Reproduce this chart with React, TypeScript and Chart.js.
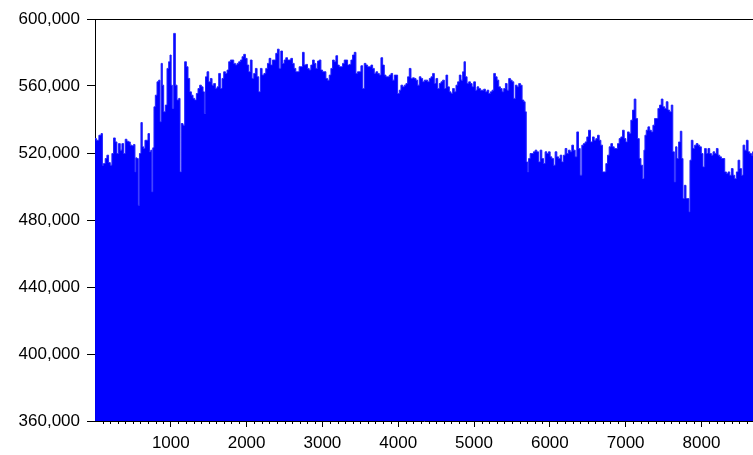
import React, { useEffect, useRef } from "react";
import { Chart, registerables } from "chart.js";

Chart.register(...registerables);

// observation index (hour of year) of each reading
const obs: number[] = [
  1, 36, 67, 93, 102, 124, 146, 168, 190, 212, 234, 256, 278, 300, 322, 344, 366, 388, 410, 432,
  454, 476, 498, 520, 534, 542, 564, 578, 595, 617, 630, 652, 666, 688, 710, 727, 745, 754, 771, 785,
  807, 829, 851, 864, 881, 895, 917, 939, 961, 983, 996, 1013, 1027, 1049, 1071, 1093, 1115, 1128, 1150, 1172,
  1194, 1216, 1238, 1260, 1282, 1304, 1326, 1348, 1370, 1392, 1414, 1436, 1449, 1467, 1489, 1511, 1533, 1555, 1577, 1599,
  1621, 1643, 1665, 1687, 1709, 1731, 1753, 1775, 1797, 1819, 1841, 1863, 1885, 1907, 1929, 1951, 1973, 1995, 2017, 2039,
  2061, 2083, 2105, 2127, 2149, 2171, 2193, 2215,
  2242, 2264, 2286, 2308, 2330, 2352, 2374, 2396, 2418, 2440, 2462, 2484, 2506, 2528, 2550, 2572, 2594, 2616, 2638, 2660,
  2682, 2704, 2726, 2748, 2770, 2792, 2814, 2836, 2859, 2881, 2903, 2925, 2947, 2969, 2991, 3013, 3035, 3057, 3079, 3101,
  3123, 3145, 3167, 3189, 3211, 3233, 3255, 3277, 3299, 3321, 3343, 3365, 3387, 3409, 3431, 3453, 3475, 3497, 3519, 3541,
  3563, 3585, 3607, 3629, 3651, 3673, 3695, 3717, 3739, 3761, 3783, 3805, 3827, 3849, 3871, 3893, 3915, 3937, 3959, 3981,
  4003, 4025, 4047, 4069, 4091, 4113, 4135, 4157, 4179, 4201, 4223, 4245, 4267, 4289, 4311, 4333,
  4355, 4377, 4399, 4421, 4443, 4465, 4487, 4509, 4531, 4553, 4575, 4597, 4619, 4641, 4663, 4685, 4707, 4729, 4751, 4773,
  4795, 4817, 4839, 4861, 4875, 4897, 4919, 4941, 4963, 4985, 5007, 5029, 5051, 5073, 5095, 5117, 5139, 5161, 5183, 5205,
  5227, 5249, 5271, 5293, 5315, 5337, 5359, 5381, 5403, 5425, 5447, 5469, 5491, 5513, 5535, 5557, 5579, 5601, 5623, 5645,
  5667, 5680, 5698, 5711, 5729, 5751, 5773, 5795, 5817, 5839, 5861, 5883, 5905, 5927, 5949, 5971, 5993, 6015, 6037, 6059,
  6081, 6103, 6125, 6147, 6169, 6191, 6213, 6235, 6257, 6279, 6301, 6323, 6345, 6367, 6389, 6411, 6433, 6455, 6477, 6499,
  6521,
  6552, 6574, 6596, 6618, 6640, 6662, 6684, 6706, 6728, 6750, 6772, 6794, 6816, 6838, 6860, 6882, 6904, 6926, 6948, 6970,
  6992, 7014, 7036, 7058, 7080, 7102, 7124, 7146, 7168, 7190, 7213, 7235, 7248, 7261, 7283, 7305, 7327, 7349, 7371, 7393,
  7415, 7437, 7459, 7481, 7503, 7525, 7547, 7569, 7591, 7613, 7631, 7653, 7666, 7688, 7710, 7732, 7750, 7763, 7785, 7807,
  7829, 7842, 7855, 7877, 7899, 7921, 7943, 7965, 7987, 8009, 8031, 8053, 8075, 8098, 8120, 8142, 8164, 8186, 8208, 8230,
  8252, 8274, 8296, 8318, 8340, 8362, 8384, 8406, 8428, 8450, 8472, 8494, 8516, 8538, 8560, 8582, 8604, 8626, 8648, 8670,
  8680,
];

// series value at each observation
const load: number[] = [
  528600, 527600, 530600, 531600, 512700, 513700, 516700, 518700, 514300, 512700, 519700, 529000, 526600, 519700, 525600, 521700, 525600, 519700, 528200, 527000,
  526600, 524700, 524300, 525100, 508700, 517100, 516700, 488800, 519700, 538200, 523700, 522700, 527600, 527600, 531600, 520700, 521700, 496800, 523100, 547600,
  554500, 562500, 563500, 538600, 573500, 560500, 544600, 548600, 570500, 574500, 578500, 560500, 546600, 591400, 560500, 551600, 552600, 508700, 537600, 536600,
  574500, 571500, 564500, 556500, 554500, 552600, 551600, 555500, 558500, 560500, 559500, 556500, 543600, 565500, 568500, 562500, 564500, 560500, 561500, 558500,
  559500, 567500, 558500, 564500, 568500, 567500, 569500, 574500, 575500, 575500, 573500, 572500, 573500, 574500, 575500, 577500, 578900, 576500, 572500, 568500,
  575500, 564500, 567500, 570500, 565500, 556500, 570500, 566500,
  567500, 570500, 573500, 576500, 572500, 575500, 575500, 579500, 582000, 570500, 580900, 573500, 575500, 576900, 575500, 575500, 576500, 573500, 570500, 568500,
  568500, 571500, 571500, 580100, 572500, 572900, 570500, 569500, 572500, 575500, 573500, 570500, 574900, 575500, 569500, 568500, 568500, 564500, 563500, 566500,
  570500, 575500, 574500, 578100, 572500, 571500, 571500, 573500, 575500, 575500, 572500, 572900, 575500, 578500, 580100, 567500, 568500, 568500, 572100, 558500,
  573500, 572500, 571500, 571500, 572500, 570500, 567500, 568500, 567500, 566500, 576900, 572500, 566500, 565500, 565500, 566500, 567500, 563500, 566500, 566500,
  555500, 557500, 560500, 559500, 560500, 561500, 565500, 570500, 564500, 564900, 564500, 563500, 560500, 565500, 564500, 562500,
  563500, 563500, 562500, 564500, 565500, 567500, 561500, 564500, 558500, 561500, 562500, 563500, 558500, 566500, 559500, 556500, 555500, 558500, 556500, 560500,
  562500, 566500, 563500, 568500, 574500, 565500, 561500, 562500, 561500, 559500, 562500, 557500, 559500, 558500, 557500, 557500, 558100, 556500, 557500, 555500,
  556500, 557500, 567500, 565500, 563500, 559500, 558500, 556500, 558500, 561500, 557500, 564500, 563500, 562500, 552600, 560500, 559500, 561500, 560500, 551600,
  550600, 544600, 514700, 508700, 516700, 519700, 519700, 520700, 521700, 520700, 514700, 521700, 516700, 513700, 520700, 519700, 520700, 517700, 516700, 512700,
  520700, 517700, 516700, 518700, 514700, 518700, 522700, 519700, 521700, 520700, 524700, 521700, 517700, 532600, 522700, 506700, 524700, 525600, 526600, 529600,
  533600,
  526600, 529600, 527600, 528600, 530600, 527600, 524700, 508700, 508700, 513700, 518700, 523700, 525600, 523700, 522700, 522700, 525600, 528600, 529600, 533600,
  528600, 526600, 532600, 531600, 539600, 545600, 552200, 540600, 528600, 516700, 512700, 504700, 521700, 530600, 533600, 535600, 533600, 532600, 536600, 540600,
  540600, 546600, 548600, 552200, 547600, 546600, 550600, 545600, 544600, 548600, 520700, 502700, 523700, 516700, 526600, 533000, 516700, 492800, 500700, 492800,
  492800, 484800, 515700, 527600, 522700, 524700, 525600, 524700, 523700, 519700, 511700, 522700, 519700, 522700, 519700, 518700, 520700, 519700, 522700, 518700,
  517700, 516700, 516700, 508700, 507700, 508700, 506700, 510700, 506700, 504700, 508700, 515700, 510700, 506700, 524700, 521700, 527600, 520700, 519700, 518700,
  520700,
];

const yTicks: number[] = [360000, 400000, 440000, 480000, 520000, 560000, 600000];
const xTicks: number[] = [1000, 2000, 3000, 4000, 5000, 6000, 7000, 8000];
const xMin = 0;
const xMax = 8680;
const minorStep = 100;

const FONT = { family: "'Liberation Sans', Arial, sans-serif", size: 17 };

const decorPlugin = {
  id: "decor",
  afterDraw(chart: any) {
    const { ctx, chartArea, scales } = chart;
    const xs = scales.x;
    ctx.save();
    ctx.strokeStyle = "#000";
    ctx.lineWidth = 1;
    ctx.beginPath();
    ctx.moveTo(chartArea.left, Math.round(chartArea.top) + 0.5);
    ctx.lineTo(chartArea.right, Math.round(chartArea.top) + 0.5);
    for (let v = minorStep; v <= xs.max; v += minorStep) {
      if (v % 1000 === 0) continue;
      const px = Math.round(xs.getPixelForValue(v)) + 0.5;
      ctx.moveTo(px, chartArea.bottom);
      ctx.lineTo(px, chartArea.bottom + 3);
    }
    ctx.stroke();
    ctx.restore();
  },
};

export default function App() {
  const ref = useRef<HTMLCanvasElement | null>(null);

  useEffect(() => {
    if (!ref.current) return;
    const points = obs.map((x, i) => ({ x, y: load[i] }));
    const chart = new Chart(ref.current, {
      type: "line",
      data: {
        datasets: [
          {
            data: points,
            borderColor: "#2020ff",
            backgroundColor: "#0000ff",
            borderWidth: 1,
            pointRadius: 0,
            fill: "start",
            stepped: "middle",
            tension: 0,
          },
        ],
      },
      options: {
        animation: false,
        responsive: false,
        events: [],
        layout: { padding: { top: 11, right: 0, left: 0, bottom: 0 } },
        plugins: { legend: { display: false }, tooltip: { enabled: false } },
        scales: {
          x: {
            type: "linear",
            min: xMin,
            max: xMax,
            z: 1,
            afterBuildTicks: (scale: any) => {
              scale.ticks = xTicks.map((v) => ({ value: v }));
            },
            afterFit: (scale: any) => {
              scale.height = 34;
              scale.paddingLeft = 0;
              scale.paddingRight = 0;
            },
            ticks: {
              autoSkip: false,
              maxRotation: 0,
              font: FONT,
              color: "#000",
              padding: 6,
              callback: (v: any) => String(v),
            },
            grid: {
              drawOnChartArea: false,
              drawTicks: true,
              tickLength: 6,
              tickColor: "#000",
            },
            border: { display: true, color: "#000" },
          },
          y: {
            min: 360000,
            max: 600000,
            z: 1,
            afterBuildTicks: (scale: any) => {
              scale.ticks = yTicks.map((v) => ({ value: v }));
            },
            afterFit: (scale: any) => {
              scale.width = 87;
              scale.paddingTop = 0;
              scale.paddingBottom = 0;
            },
            ticks: {
              font: FONT,
              color: "#000",
              padding: 7,
              callback: (v: any) => Number(v).toLocaleString("en-US"),
            },
            grid: {
              drawOnChartArea: false,
              drawTicks: true,
              tickLength: 8,
              tickColor: "#000",
            },
            border: { display: true, color: "#000" },
          },
        },
      },
      plugins: [decorPlugin],
    });
    return () => chart.destroy();
  }, []);

  return (
    <div style={{ position: "fixed", left: 8, top: 8, width: 745, height: 447 }}>
      <canvas ref={ref} width={745} height={447} style={{ display: "block" }} />
    </div>
  );
}
